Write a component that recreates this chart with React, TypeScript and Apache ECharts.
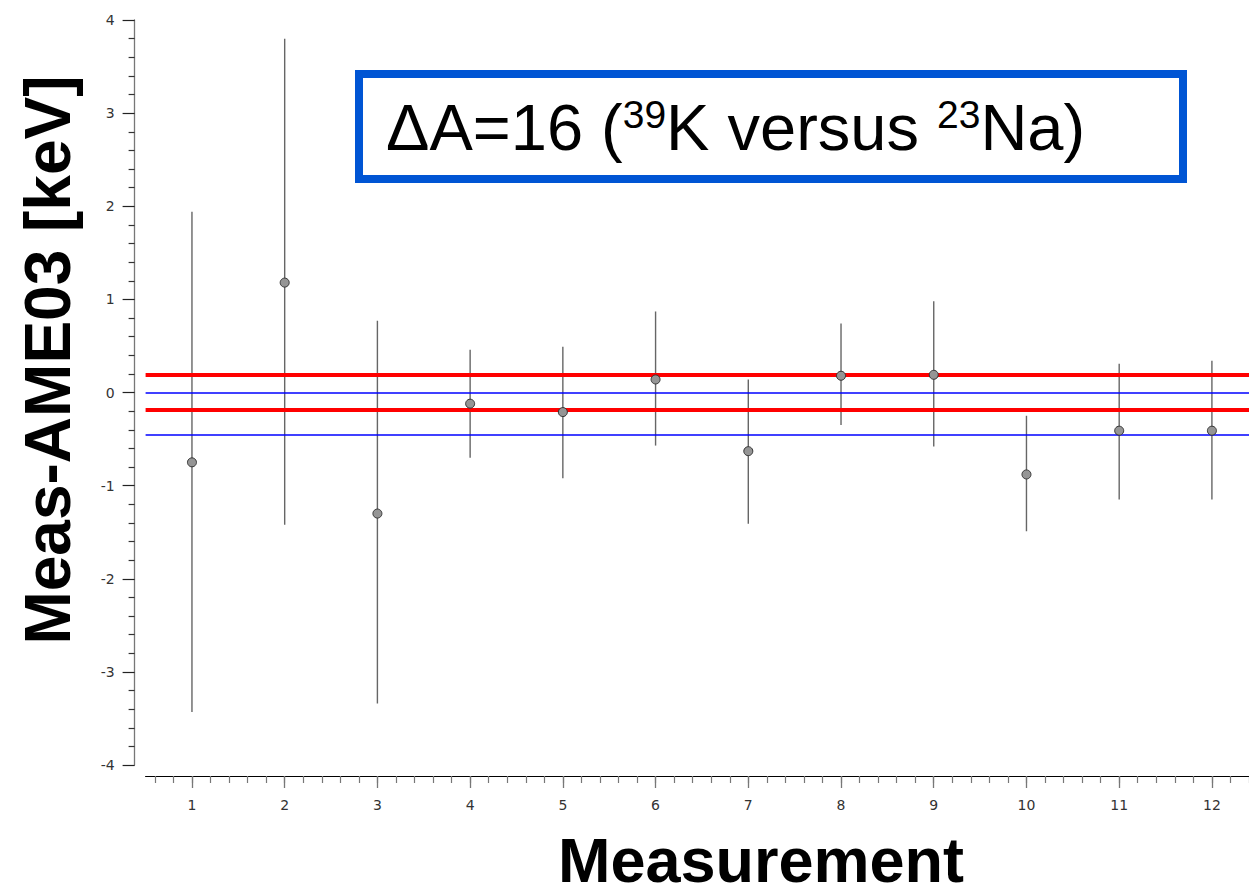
import React, { useEffect, useRef } from "react";
import * as echarts from "echarts";

// Measurement index
const categories = [1, 2, 3, 4, 5, 6, 7, 8, 9, 10, 11, 12];
// Meas - AME03 [keV]
const values = [-0.75, 1.18, -1.3, -0.12, -0.21, 0.14, -0.63, 0.18, 0.19, -0.88, -0.41, -0.41];
const errLow = [-3.43, -1.42, -3.34, -0.7, -0.92, -0.57, -1.41, -0.35, -0.58, -1.49, -1.15, -1.15];
const errHigh = [1.94, 3.8, 0.77, 0.46, 0.49, 0.87, 0.14, 0.74, 0.98, -0.25, 0.31, 0.34];
// reference bands
const redLines = [0.19, -0.19];
const blueLines = [0.0, -0.45];
// axis ticks
const yTicks = [-4, -3, -2, -1, 0, 1, 2, 3, 4];
const xMajorTicks = [1, 2, 3, 4, 5, 6, 7, 8, 9, 10, 11, 12];

const X_MIN = 0.5;
const X_MAX = 12.4;

export default function App() {
  const ref = useRef<HTMLDivElement>(null);

  useEffect(() => {
    document.body.style.margin = "0";
    if (!ref.current) return;
    const chart = echarts.init(ref.current, null, { renderer: "svg" });

    const xMinorTicks: number[] = [];
    for (let i = 3; i <= 62; i++) xMinorTicks.push(Math.round(i * 0.2 * 10) / 10);

    const option: any = {
      animation: false,
      backgroundColor: "#ffffff",
      grid: { left: 145.6, top: 20, right: 0, height: 745 },
      xAxis: [
        {
          type: "value",
          min: X_MIN,
          max: X_MAX,
          position: "bottom",
          offset: 11,
          axisLine: { show: true, onZero: false, lineStyle: { color: "#000", width: 1.2 } },
          axisTick: {
            show: true,
            customValues: xMinorTicks,
            length: 7,
            lineStyle: { color: "#777", width: 1.2 },
          },
          axisLabel: { show: false },
          splitLine: { show: false },
        },
        {
          type: "value",
          min: X_MIN,
          max: X_MAX,
          position: "bottom",
          offset: 11,
          axisLine: { show: false, onZero: false },
          axisTick: {
            show: true,
            customValues: xMajorTicks,
            length: 12,
            lineStyle: { color: "#777", width: 1.3 },
          },
          axisLabel: {
            show: true,
            customValues: xMajorTicks,
            margin: 22,
            color: "#333",
            fontSize: 14,
            fontFamily: "DejaVu Sans",
          },
          splitLine: { show: false },
        },
      ],
      yAxis: {
        type: "value",
        min: -4,
        max: 4,
        interval: 1,
        offset: 11,
        axisLine: { show: true, onZero: false, lineStyle: { color: "#777", width: 1.3 } },
        axisTick: { show: true, length: 12, lineStyle: { color: "#222", width: 1.2 } },
        minorTick: { show: true, splitNumber: 5, length: 6, lineStyle: { color: "#333", width: 1.2 } },
        axisLabel: {
          show: true,
          margin: 20,
          color: "#333",
          fontSize: 14,
          fontFamily: "DejaVu Sans",
          customValues: yTicks,
        },
        splitLine: { show: false },
        minorSplitLine: { show: false },
      },
      series: [
        {
          type: "line",
          data: [],
          z: 1,
          silent: true,
          markLine: {
            silent: true,
            symbol: ["none", "none"],
            label: { show: false },
            data: [
              ...redLines.map((v) => ({ yAxis: v, lineStyle: { color: "#ff0000", width: 4, type: "solid" } })),
              ...blueLines.map((v) => ({ yAxis: v, lineStyle: { color: "#0000ff", width: 1.5, type: "solid" } })),
            ],
          },
        },
        {
          type: "custom",
          z: 4,
          data: categories.map((c, i) => [c, errLow[i], errHigh[i]]),
          encode: { x: 0, y: [1, 2] },
          renderItem: (params: any, api: any) => {
            const x = api.value(0);
            const lo = api.coord([x, api.value(1)]);
            const hi = api.coord([x, api.value(2)]);
            return {
              type: "line",
              shape: { x1: lo[0], y1: lo[1], x2: hi[0], y2: hi[1] },
              style: { stroke: "#666", lineWidth: 1.4 },
            };
          },
        },
        {
          type: "scatter",
          z: 5,
          symbol: "circle",
          symbolSize: 9,
          data: categories.map((c, i) => [c, values[i]]),
          itemStyle: { color: "#959595", borderColor: "#333", borderWidth: 1, opacity: 1 },
        },
      ],
      graphic: [
        {
          type: "rect",
          shape: { x: 359, y: 74, width: 824, height: 105 },
          style: { fill: "#ffffff", stroke: "#0055d4", lineWidth: 8 },
          z: 10,
        },
        {
          type: "text",
          x: 386,
          y: 127,
          z: 11,
          style: {
            text: "{n|ΔA=16 (}{s|39}{n|K versus }{s|23}{n|Na)}",
            align: "left",
            verticalAlign: "middle",
            rich: {
              n: { fontSize: 65, fontFamily: "Liberation Sans", fill: "#000", lineHeight: 65 },
              s: { fontSize: 39, fontFamily: "Liberation Sans", fill: "#000", verticalAlign: "top", lineHeight: 39 },
            },
          },
        },
        {
          type: "text",
          x: 761,
          y: 860,
          z: 11,
          style: {
            text: "Measurement",
            align: "center",
            verticalAlign: "middle",
            fontSize: 63,
            fontWeight: "bold",
            fontFamily: "Liberation Sans",
            fill: "#000",
          },
        },
        {
          type: "text",
          x: 48,
          y: 360,
          rotation: Math.PI / 2,
          z: 11,
          style: {
            text: "Meas-AME03 [keV]",
            align: "center",
            verticalAlign: "middle",
            fontSize: 64,
            fontWeight: "bold",
            fontFamily: "Liberation Sans",
            fill: "#000",
          },
        },
      ],
    };

    chart.setOption(option);
    return () => chart.dispose();
  }, []);

  return <div ref={ref} style={{ width: 1249, height: 896 }} />;
}
